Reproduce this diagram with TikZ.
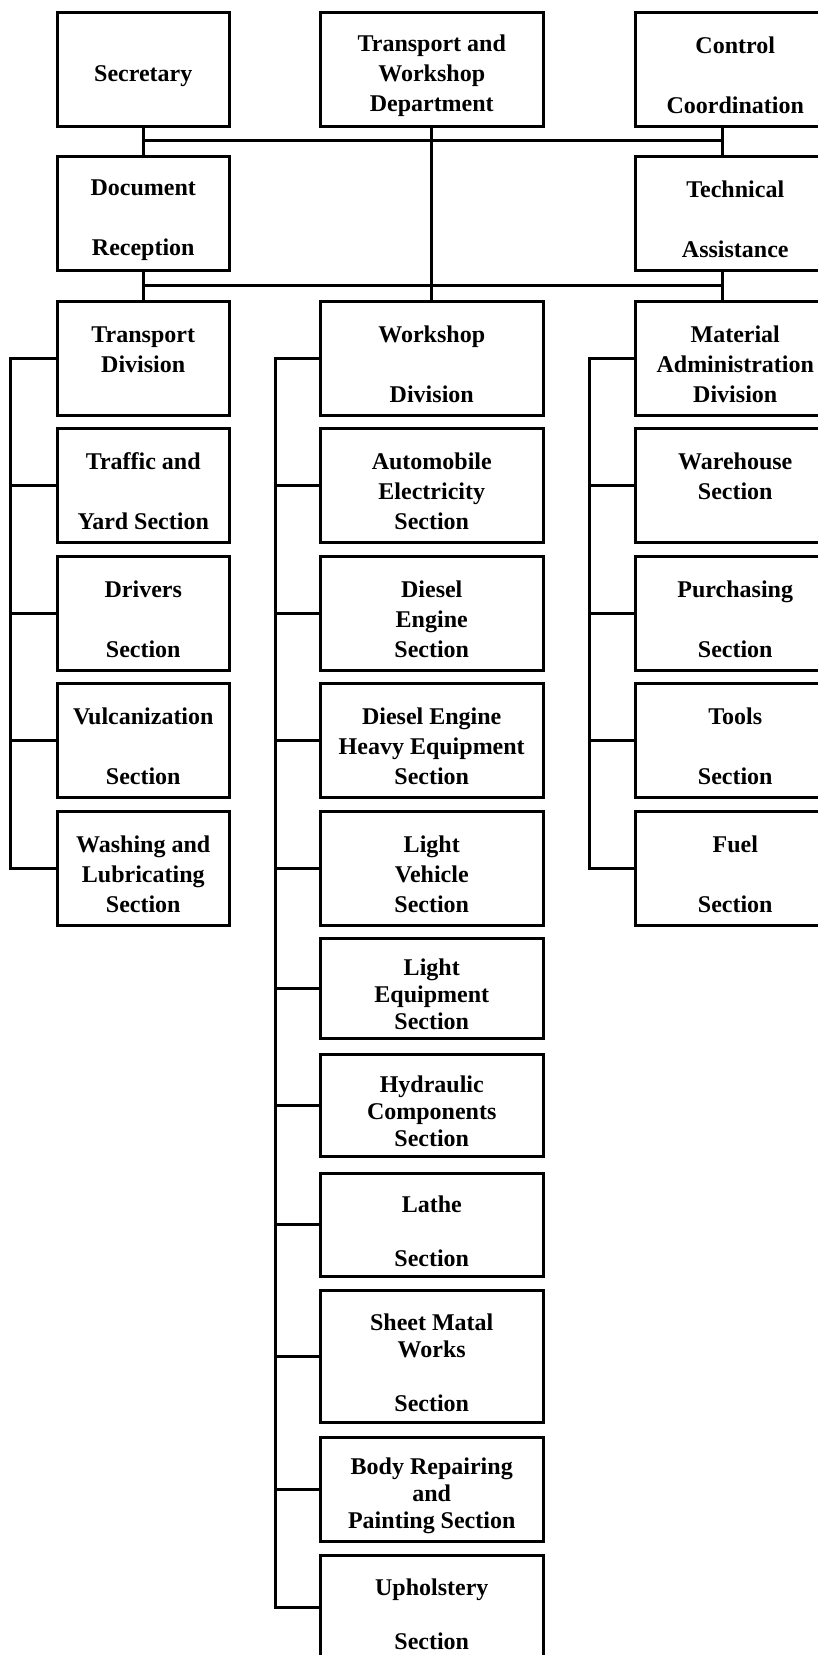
\documentclass[tikz,border=0pt]{standalone}
\usepackage{fontspec}
\setmainfont{Liberation Serif}
\tikzstyle{chart} = [x = 1pt, y = -1pt]
\tikzstyle{unitStyle} = [draw, rectangle, line width = 2.5pt, inner sep = 0pt, anchor = north west, align = center, font = \unitFont]
\tikzstyle{lowUnitStyle} = [unitStyle, font = \lowUnitFont]
\tikzstyle{linkLine} = [draw = black, line width = 3pt]
\newcommand{\unitFont}{\fontsize{24}{30}\selectfont\bfseries}
\newcommand{\lowUnitFont}{\fontsize{24}{27}\selectfont\bfseries}
\newcommand{\boxHeight}{114}
\newcommand{\topPad}{\rule{0pt}{29pt}}
\newcommand{\leftUnit}[3]{\node [unitStyle, minimum width = 172, minimum height = \boxHeight] (#1) at (56, #2) {\topPad#3};}
\newcommand{\middleUnit}[3]{\node [unitStyle, minimum width = 223, minimum height = \boxHeight] (#1) at (319, #2) {\topPad#3};}
\newcommand{\rightUnit}[3]{\node [unitStyle, minimum width = 200, minimum height = \boxHeight] (#1) at (634, #2) {\topPad#3};}
\newcommand{\lowUnit}[4]{\node [lowUnitStyle, minimum width = 223, minimum height = #3] (#1) at (319, #2) {\topPad#4};}
\newcommand{\stub}[2]{\draw [linkLine] (#1.west) -- (#1.west -| #2);}

\begin{document}
\begin{tikzpicture}[chart]
  \fill [white] (0, 0) rectangle (817, 1655);
  \useasboundingbox (0, 0) rectangle (817, 1655);
  \coordinate (topLine) at (0, 140);
  \coordinate (midLine) at (0, 285);
  \coordinate (rightBus) at (722, 0);
  \coordinate (trBus) at (10, 0);
  \coordinate (wsBus) at (275, 0);
  \coordinate (matBus) at (589, 0);

  % head rows
  \leftUnit{secr}{11}{Secretary}
  \middleUnit{tw}{11}{Transport and\\Workshop\\Department}
  \rightUnit{ctrl}{11}{Control\\[30pt]Coordination}
  \leftUnit{docu}{155}{Document\\[30pt]Reception}
  \rightUnit{tech}{155}{Technical\\[30pt]Assistance}

  % divisions
  \leftUnit{trDiv}{300}{Transport\\Division\\\mbox{}}
  \middleUnit{wsDiv}{300}{Workshop\\[30pt]Division}
  \rightUnit{matDiv}{300}{Material\\Administration\\Division}

  % transport sections
  \leftUnit{traffic}{427}{Traffic and\\[30pt]Yard Section}
  \leftUnit{drivers}{555}{Drivers\\[30pt]Section}
  \leftUnit{vulc}{682}{Vulcanization\\[30pt]Section}
  \leftUnit{wash}{810}{Washing and\\Lubricating\\Section}

  % workshop sections
  \middleUnit{auto}{427}{Automobile\\Electricity\\Section}
  \middleUnit{diesel}{555}{Diesel\\Engine\\Section}
  \middleUnit{heavy}{682}{Diesel Engine\\Heavy Equipment\\Section}
  \middleUnit{lightVeh}{810}{Light\\Vehicle\\Section}
  \lowUnit{lightEq}{937}{100}{Light\\Equipment\\Section}
  \lowUnit{hydr}{1053}{102}{Hydraulic\\Components\\Section}
  \lowUnit{lathe}{1172}{103}{Lathe\\[27pt]Section}
  \lowUnit{sheet}{1289}{132}{Sheet Matal\\Works\\[27pt]Section}
  \lowUnit{body}{1436}{104}{Body Repairing\\and\\Painting Section}
  \lowUnit{uphol}{1554}{105}{Upholstery\\[27pt]Section}

  % material sections
  \rightUnit{ware}{427}{Warehouse\\Section\\\mbox{}}
  \rightUnit{purch}{555}{Purchasing\\[30pt]Section}
  \rightUnit{tools}{682}{Tools\\[30pt]Section}
  \rightUnit{fuel}{810}{Fuel\\[30pt]Section}

  % top connectors
  \draw [linkLine] (secr.south) -- (docu.north);
  \draw [linkLine] (ctrl.south -| rightBus) -- (tech.north -| rightBus);
  \draw [linkLine] (secr.south |- topLine) -- (rightBus |- topLine);
  \draw [linkLine] (tw.south) -- (wsDiv.north);
  \draw [linkLine] (docu.south) -- (trDiv.north);
  \draw [linkLine] (tech.south -| rightBus) -- (matDiv.north -| rightBus);
  \draw [linkLine] (docu.south |- midLine) -- (rightBus |- midLine);

  % buses
  \draw [linkLine] (trDiv.west) -- (trDiv.west -| trBus) |- (wash.west);
  \foreach \unit in {traffic, drivers, vulc} {\stub{\unit}{trBus}}
  \draw [linkLine] (wsDiv.west) -- (wsDiv.west -| wsBus) |- (uphol.west);
  \foreach \unit in {auto, diesel, heavy, lightVeh, lightEq, hydr, lathe, sheet, body} {\stub{\unit}{wsBus}}
  \draw [linkLine] (matDiv.west) -- (matDiv.west -| matBus) |- (fuel.west);
  \foreach \unit in {ware, purch, tools} {\stub{\unit}{matBus}}
\end{tikzpicture}
\end{document}
